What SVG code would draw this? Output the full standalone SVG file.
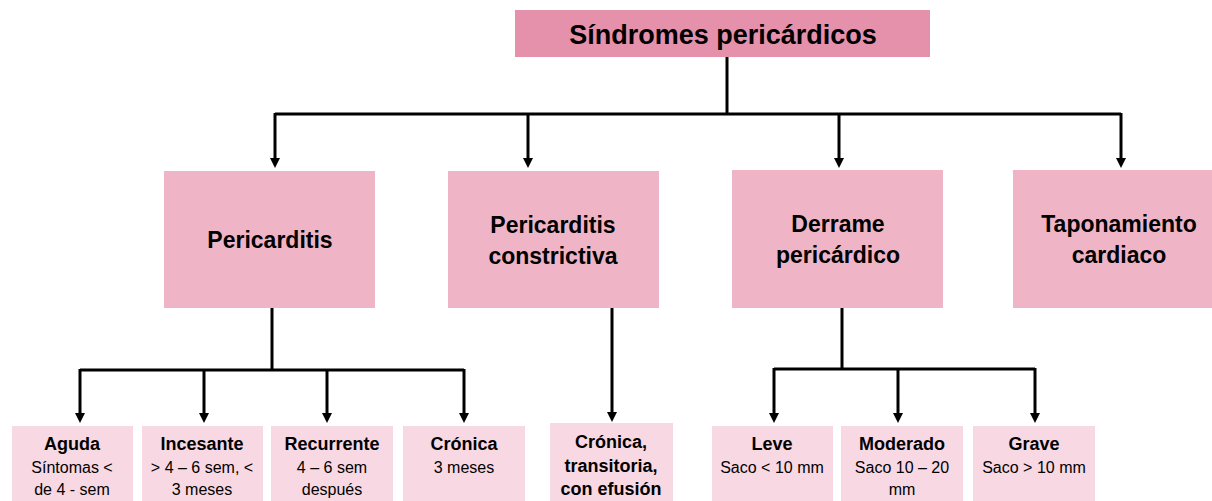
<svg xmlns="http://www.w3.org/2000/svg" width="1212" height="501" viewBox="0 0 1212 501">
<style>
text{font-family:"Liberation Sans",Arial,sans-serif;fill:#000;text-anchor:middle}
.t0{font-size:27px;font-weight:bold}
.t1{font-size:23px;font-weight:bold}
.t2{font-size:18px;font-weight:bold}
.t3{font-size:16px}
.b0{fill:#E691AB}
.b1{fill:#EFB5C6}
.b2{fill:#F8D8E3}
.c{stroke:#000;stroke-width:3;fill:none}
</style>
<defs>
<marker id="ah" viewBox="0 0 10 10" refX="6" refY="5" markerWidth="10" markerHeight="10" markerUnits="userSpaceOnUse" orient="auto">
<path d="M0,0 L10,5 L0,10 z" fill="#000"/>
</marker>
</defs>
<g id="connectors">
<path class="c" d="M727 57 V115"/>
<path class="c" d="M275 114 H1121"/>
<path class="c" d="M275 113 V164" marker-end="url(#ah)"/>
<path class="c" d="M528 113 V164" marker-end="url(#ah)"/>
<path class="c" d="M839 113 V164" marker-end="url(#ah)"/>
<path class="c" d="M1121 113 V164" marker-end="url(#ah)"/>
<path class="c" d="M272 308 V371"/>
<path class="c" d="M80 370 H464"/>
<path class="c" d="M80 369 V419" marker-end="url(#ah)"/>
<path class="c" d="M204 369 V419" marker-end="url(#ah)"/>
<path class="c" d="M327 369 V419" marker-end="url(#ah)"/>
<path class="c" d="M464 369 V419" marker-end="url(#ah)"/>
<path class="c" d="M612 308 V418" marker-end="url(#ah)"/>
<path class="c" d="M842 308 V370"/>
<path class="c" d="M774 369 H1035"/>
<path class="c" d="M774 368 V419" marker-end="url(#ah)"/>
<path class="c" d="M898 368 V419" marker-end="url(#ah)"/>
<path class="c" d="M1035 368 V419" marker-end="url(#ah)"/>
</g>
<g id="n-root"><rect class="b0" x="515" y="10" width="415" height="47"/><text class="t0" x="723" y="44">Síndromes pericárdicos</text></g>
<g id="n-pericarditis"><rect class="b1" x="164" y="171" width="211" height="137"/><text class="t1" x="270" y="248">Pericarditis</text></g>
<g id="n-constrictiva"><rect class="b1" x="448" y="171" width="211" height="137"/><text class="t1" x="553" y="233">Pericarditis</text><text class="t1" x="553" y="264">constrictiva</text></g>
<g id="n-derrame"><rect class="b1" x="732" y="170" width="211" height="138"/><text class="t1" x="838" y="232">Derrame</text><text class="t1" x="838" y="263">pericárdico</text></g>
<g id="n-taponamiento"><rect class="b1" x="1013" y="170" width="211" height="138"/><text class="t1" x="1119" y="232">Taponamiento</text><text class="t1" x="1119" y="263">cardiaco</text></g>
<g id="n-aguda"><rect class="b2" x="12" y="426" width="121" height="75"/><text class="t2" x="72" y="450">Aguda</text><text class="t3" x="72" y="473">Síntomas &lt;</text><text class="t3" x="72" y="495">de 4 - sem</text></g>
<g id="n-incesante"><rect class="b2" x="142" y="426" width="121" height="75"/><text class="t2" x="202" y="450">Incesante</text><text class="t3" x="202" y="473">&gt; 4 – 6 sem, &lt;</text><text class="t3" x="202" y="495">3 meses</text></g>
<g id="n-recurrente"><rect class="b2" x="271" y="426" width="122" height="75"/><text class="t2" x="332" y="450">Recurrente</text><text class="t3" x="332" y="473">4 – 6 sem</text><text class="t3" x="332" y="495">después</text></g>
<g id="n-cronica"><rect class="b2" x="403" y="426" width="122" height="75"/><text class="t2" x="464" y="450">Crónica</text><text class="t3" x="464" y="473">3 meses</text></g>
<g id="n-cronica-efusion"><rect class="b2" x="550" y="423" width="123" height="78"/><text class="t2" x="611" y="448">Crónica,</text><text class="t2" x="611" y="472">transitoria,</text><text class="t2" x="611" y="495">con efusión</text></g>
<g id="n-leve"><rect class="b2" x="712" y="426" width="121" height="75"/><text class="t2" x="772" y="450">Leve</text><text class="t3" x="772" y="473">Saco &lt; 10 mm</text></g>
<g id="n-moderado"><rect class="b2" x="841" y="426" width="122" height="75"/><text class="t2" x="902" y="450">Moderado</text><text class="t3" x="902" y="473">Saco 10 – 20</text><text class="t3" x="902" y="495">mm</text></g>
<g id="n-grave"><rect class="b2" x="973" y="426" width="122" height="75"/><text class="t2" x="1034" y="450">Grave</text><text class="t3" x="1034" y="473">Saco &gt; 10 mm</text></g>
</svg>
